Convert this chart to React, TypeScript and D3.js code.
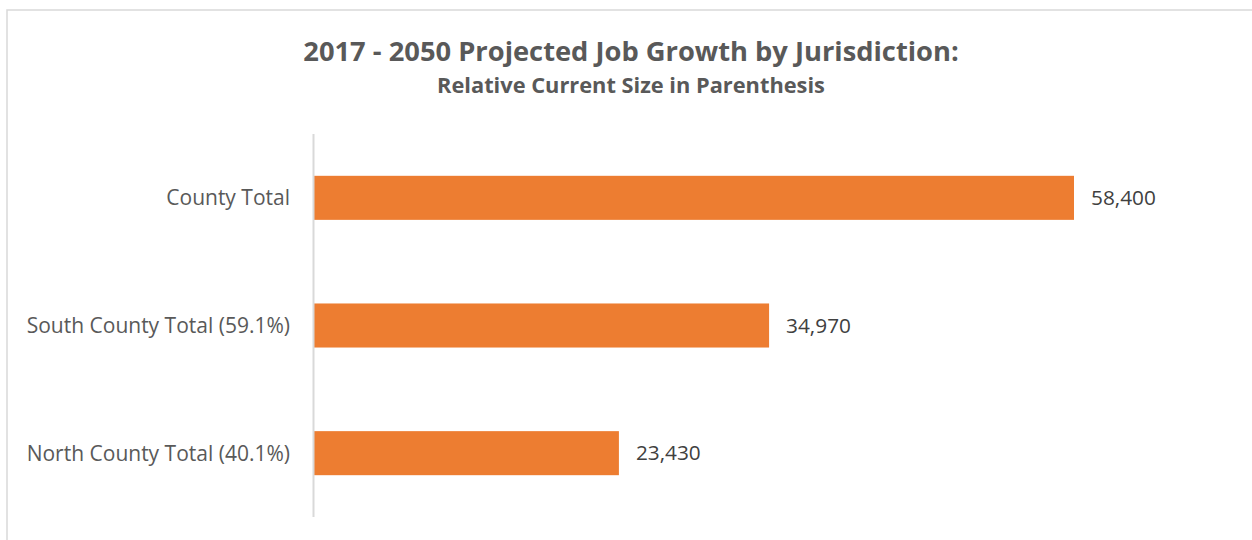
import React from "react";
import * as d3 from "d3";

const categories = ["County Total", "South County Total (59.1%)", "North County Total (40.1%)"];
const values = [58400, 34970, 23430];
const title = "2017 - 2050 Projected Job Growth by Jurisdiction:";
const subtitle = "Relative Current Size in Parenthesis";

const W = 1252;
const H = 540;
const FONT = "'Open Sans', 'Noto Sans', sans-serif";

export default function App() {
  const x = d3.scaleLinear().domain([0, 58400]).range([314, 1074]);
  const y = d3.scaleBand().domain(categories).range([134, 517]).paddingInner(0.655).paddingOuter(0.3275);
  const fmt = d3.format(",");
  return (
    <svg width={W} height={H} style={{ position: "absolute", left: 0, top: 0, background: "#fff" }}>
      <rect x={7} y={10} width={W + 20} height={H + 20} fill="#fff" stroke="#d9d9d9" strokeWidth={1.5} />
      <text x={631} y={61} textAnchor="middle" fontFamily={FONT} fontWeight="bold" fontSize={27.3} fill="#595959">{title}</text>
      <text x={631} y={93} textAnchor="middle" fontFamily={FONT} fontWeight="bold" fontSize={21.8} fill="#595959">{subtitle}</text>
      {categories.map((c, i) => {
        const yy = y(c)!;
        const bw = y.bandwidth();
        return (
          <g key={c}>
            <rect x={x(0)} y={yy} width={x(values[i]) - x(0)} height={bw} fill="#ED7D31" />
            <text x={290} y={yy + bw / 2} dy="0.35em" textAnchor="end" fontFamily={FONT} fontSize={21} fill="#595959">{c}</text>
            <text x={x(values[i]) + 17} y={yy + bw / 2} dy="0.35em" fontFamily={FONT} fontSize={20.8} fill="#404040">{fmt(values[i])}</text>
          </g>
        );
      })}
      <line x1={x(0) - 0.5} x2={x(0) - 0.5} y1={134} y2={517} stroke="#d9d9d9" strokeWidth={2} />
    </svg>
  );
}
